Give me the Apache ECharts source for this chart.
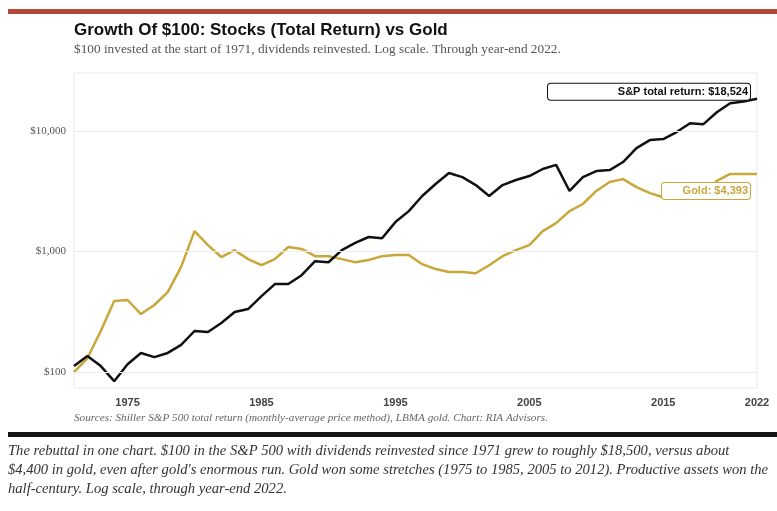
<!DOCTYPE html>
<html><head><meta charset="utf-8">
<script src="https://cdn.jsdelivr.net/npm/echarts@6/dist/echarts.min.js"></script>
<style>html,body{margin:0;padding:0;background:#fff}#c{width:777px;height:511px}</style>
</head><body><div id="c"></div>
<script>
const years = [];
for (let y = 1971; y <= 2022; y++) years.push(y);
const spValues = [112,136,112,84,116,144,133,144,168,219,215,255,315,333,427,537,537,636,832,815,1026,1178,1320,1290,1755,2165,2890,3630,4480,4140,3560,2890,3560,3920,4230,4840,5240,3180,4140,4650,4740,5530,7220,8410,8580,9800,11600,11400,14300,17000,17600,18524];
const goldValues = [100,130,219,388,396,303,360,460,745,1475,1130,900,1026,865,770,865,1090,1050,915,915,865,815,850,915,935,935,785,715,675,675,660,770,915,1026,1130,1475,1720,2165,2480,3180,3770,3990,3420,3050,2820,3100,3300,3050,3850,4400,4400,4393];
const yTicks = [100, 1000, 10000];
const xTicks = [1975, 1985, 1995, 2005, 2015, 2022];
const spLabel = 'S&P total return: $18,524';
const goldLabel = 'Gold: $4,393';

const chart = echarts.init(document.getElementById('c'));
const serif = '"Liberation Serif", "DejaVu Serif", serif';
const narrow = '"Liberation Sans Narrow","Liberation Sans",Arial,sans-serif';
function mk(vals){ return years.map((y,i)=>[y,vals[i]]); }
function endLbl(text, color, w, dy){
  return {show:true, formatter:text, distance:0, offset:[-7,dy], align:'right', width:w,
    color:color, fontWeight:'bold', fontSize:11, fontFamily:narrow,
    backgroundColor:'#fff', borderColor:color, borderWidth:1, borderRadius:3, padding:[3,2,2,4]};
}
chart.setOption({
  animation:false,
  grid:{left:74, right:20, top:73, bottom:123, show:true, borderColor:'#e8e8e8', borderWidth:1},
  xAxis:{type:'value', min:1971, max:2022, splitLine:{show:false}, axisLine:{show:false}, axisTick:{show:false},
    axisLabel:{customValues:xTicks, formatter:v=>String(v), color:'#444', fontWeight:'bold', fontSize:11, margin:9, fontFamily:narrow}},
  yAxis:{type:'log', logBase:10, min:73.7, max:30300, splitLine:{show:false}, axisLine:{show:false}, axisTick:{show:false},
    axisLabel:{customValues:yTicks, color:'#555', fontSize:11, fontFamily:serif, margin:8,
      formatter:v=>'$'+Math.round(v).toLocaleString('en-US')}},
  series:[
    {type:'line', data:[], silent:true,
      markLine:{silent:true, symbol:'none', label:{show:false}, lineStyle:{color:'#ececec', type:'solid', width:1},
        data:yTicks.map(v=>({yAxis:v}))}},
    {name:'Gold', type:'line', data:mk(goldValues), symbol:'none', showSymbol:false,
      lineStyle:{color:'#c9a73a', width:2.5}, z:3, endLabel:endLbl(goldLabel, '#c9a73a', 82, 17)},
    {name:'S&P', type:'line', data:mk(spValues), symbol:'none', showSymbol:false,
      lineStyle:{color:'#111', width:2.5}, z:4, endLabel:endLbl(spLabel, '#111', 196, -7)}
  ],
  graphic:[
    {type:'rect', shape:{x:8,y:9,width:769,height:5}, style:{fill:'#b5473a'}},
    {type:'text', left:74, top:22, style:{text:'Growth Of $100: Stocks (Total Return) vs Gold', fontSize:17, fontWeight:'bold', fill:'#111', fontFamily:'"Liberation Sans",Arial,sans-serif'}},
    {type:'text', left:74, top:43, style:{text:'$100 invested at the start of 1971, dividends reinvested. Log scale. Through year-end 2022.', fontSize:13.3, fill:'#555', fontFamily:serif}},
    {type:'text', left:74, top:413, style:{text:'Sources: Shiller S&P 500 total return (monthly-average price method), LBMA gold. Chart: RIA Advisors.', fontSize:11.2, fontStyle:'italic', fill:'#666', fontFamily:serif}},
    {type:'rect', shape:{x:8,y:432,width:769,height:5}, style:{fill:'#151515'}},
    {type:'text', left:8, top:442, style:{text:"The rebuttal in one chart. $100 in the S&P 500 with dividends reinvested since 1971 grew to roughly $18,500, versus about\n$4,400 in gold, even after gold's enormous run. Gold won some stretches (1975 to 1985, 2005 to 2012). Productive assets won the\nhalf-century. Log scale, through year-end 2022.", fontSize:14.6, lineHeight:19, fontStyle:'italic', fill:'#333', fontFamily:serif}}
  ]
});
</script></body></html>
